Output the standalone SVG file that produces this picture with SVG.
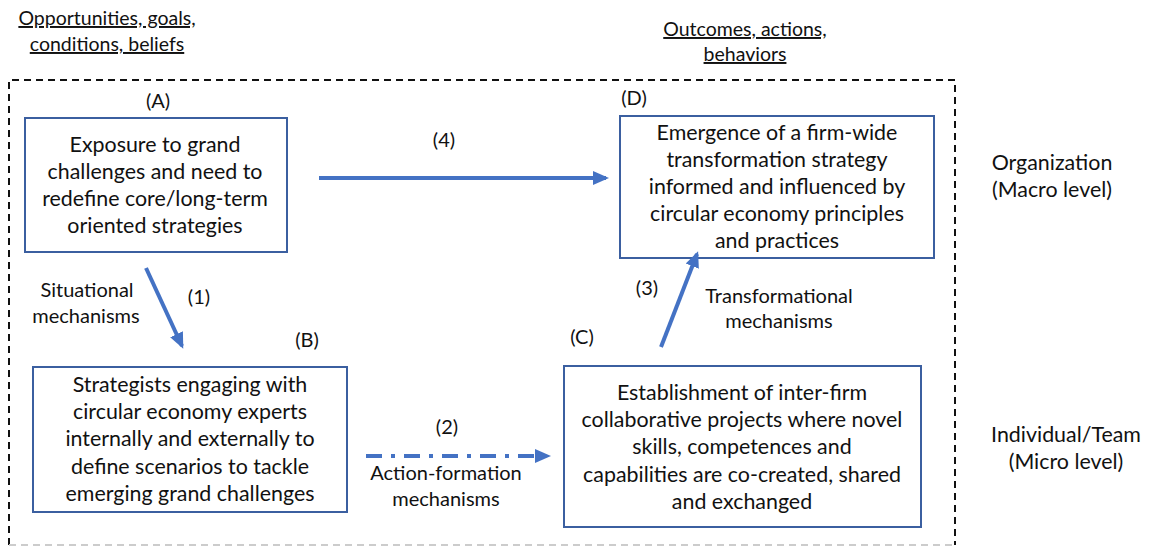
<svg xmlns="http://www.w3.org/2000/svg" width="1151" height="546" viewBox="0 0 1151 546">
<defs>
<style>
text{font-family:Lato,"Liberation Sans",sans-serif;fill:#111;text-anchor:middle}
.bt{font-size:21.4px}
.lb{font-size:20px}
.hd{font-size:19.5px;text-decoration:underline}
.box{fill:#fff;stroke:#3b5fa0;stroke-width:2}
.arr{stroke:#4472c4;stroke-width:4;fill:none}
</style>
<marker id="ah" markerUnits="userSpaceOnUse" markerWidth="16" markerHeight="16" viewBox="0 0 16 16" refX="13" refY="8" orient="auto">
<path d="M0,1 L16,8 L0,15 Z" fill="#4472c4"/>
</marker>
</defs>
<rect width="1151" height="546" fill="#fff"/>
<g id="frame">
<path d="M9,545 L9,80 L955,80 L955,545" fill="none" stroke="#111" stroke-width="2" stroke-dasharray="7,5"/>
<path d="M9,545 L955,545" fill="none" stroke="#ccc" stroke-width="2" stroke-dasharray="7,5"/>
</g>
<g id="headers">
<text class="hd" x="107" y="25">Opportunities, goals,</text>
<text class="hd" x="107" y="51">conditions, beliefs</text>
<text class="hd" x="745" y="36">Outcomes, actions,</text>
<text class="hd" x="745" y="61">behaviors</text>
<text class="bt" x="1052" y="170">Organization</text>
<text class="bt" x="1052" y="197">(Macro level)</text>
<text class="bt" x="1066" y="442">Individual/Team</text>
<text class="bt" x="1066" y="469">(Micro level)</text>
</g>
<g id="nodeA">
<rect class="box" x="25" y="118" width="262" height="134"/>
<text class="lb" x="158" y="108">(A)</text>
<text class="bt" x="155" y="152">Exposure to grand</text>
<text class="bt" x="155" y="179">challenges and need to</text>
<text class="bt" x="155" y="206">redefine core/long-term</text>
<text class="bt" x="155" y="233">oriented strategies</text>
</g>
<g id="nodeD">
<rect class="box" x="620" y="116" width="314" height="142"/>
<text class="lb" x="634" y="105">(D)</text>
<text class="bt" x="777" y="140">Emergence of a firm-wide</text>
<text class="bt" x="777" y="167">transformation strategy</text>
<text class="bt" x="777" y="194">informed and influenced by</text>
<text class="bt" x="777" y="221">circular economy principles</text>
<text class="bt" x="777" y="248">and practices</text>
</g>
<g id="nodeB">
<rect class="box" x="33" y="367" width="314" height="145"/>
<text class="lb" x="307" y="347">(B)</text>
<text class="bt" x="190" y="392">Strategists engaging with</text>
<text class="bt" x="190" y="419">circular economy experts</text>
<text class="bt" x="190" y="446">internally and externally to</text>
<text class="bt" x="190" y="474">define scenarios to tackle</text>
<text class="bt" x="190" y="501">emerging grand challenges</text>
</g>
<g id="nodeC">
<rect class="box" x="564" y="366" width="357" height="161"/>
<text class="lb" x="582" y="344">(C)</text>
<text class="bt" x="742" y="400">Establishment of inter-firm</text>
<text class="bt" x="742" y="427">collaborative projects where novel</text>
<text class="bt" x="742" y="454">skills, competences and</text>
<text class="bt" x="742" y="482">capabilities are co-created, shared</text>
<text class="bt" x="742" y="509">and exchanged</text>
</g>
<g id="connectors">
<line class="arr" x1="319" y1="178" x2="606" y2="178" marker-end="url(#ah)"/>
<line class="arr" x1="146" y1="268" x2="182" y2="346" marker-end="url(#ah)"/>
<line class="arr" x1="661" y1="347" x2="697" y2="254" marker-end="url(#ah)"/>
<line class="arr" x1="366" y1="456" x2="537" y2="456" stroke-dasharray="16,9,4,9"/>
<path d="M535,449 L551,456 L535,463 Z" fill="#4472c4"/>
<text class="lb" x="444" y="147">(4)</text>
<text class="lb" x="199" y="304">(1)</text>
<text class="lb" x="447" y="434">(2)</text>
<text class="lb" x="647" y="295">(3)</text>
<text class="lb" x="87" y="297">Situational</text>
<text class="lb" x="86" y="323">mechanisms</text>
<text class="lb" x="779" y="303">Transformational</text>
<text class="lb" x="779" y="328">mechanisms</text>
<text class="lb" x="446" y="480">Action-formation</text>
<text class="lb" x="446" y="506">mechanisms</text>
</g>
</svg>
